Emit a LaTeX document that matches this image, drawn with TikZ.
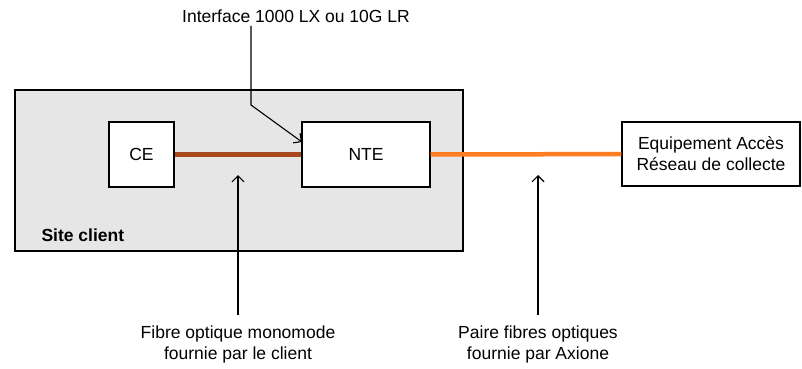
\documentclass[tikz,border=0pt]{standalone}
\usepackage{fontspec}
\setmainfont{Liberation Sans}
\usetikzlibrary{arrows.meta,positioning}
\definecolor{fibrebrown}{RGB}{168,72,28}
\definecolor{fibreorange}{RGB}{255,125,35}
\definecolor{sitegray}{RGB}{230,230,230}

\begin{document}
\begin{tikzpicture}[x=1pt,y=-1pt,font=\fontsize{17.5}{21}\selectfont,
box/.style={draw=black,line width=1.1pt,fill=white,align=center,inner sep=0pt},
client/.style={-,line width=4.5pt,draw=fibrebrown},
axione/.style={-,line width=4.5pt,draw=fibreorange},
arr/.style={-{Straight Barb[length=6pt,width=12pt]},line width=1.1pt,draw=black}]
\useasboundingbox(0,0)rectangle(802,368);

\node[box,fill=sitegray,minimum width=448pt,minimum height=161pt](site)at(239,170.5){};
\node[anchor=west,font=\fontsize{17.5}{21}\selectfont\bfseries](sitelbl)at(38,235){Site client};
\node[box,minimum width=65pt,minimum height=65pt](ce)at(141.5,154.5){CE};
\node[box,minimum width=128pt,minimum height=65pt](nte)at(366,154.5){NTE};
\node[box,minimum width=178pt,minimum height=64pt](equip)at(711,154){Equipement Accès\\Réseau de collecte};
\draw[client](ce)--(nte);
\draw[axione](nte)--(equip);

\node(iface)at(296,16){Interface 1000 LX ou 10G LR};
\coordinate(ifbend)at(251,105);
\coordinate(ifend)at(302,142);
\draw[arr](iface.south-|ifbend)--(ifbend)--(ifend);

\node[align=center,anchor=north](fibre)at(238,322){Fibre optique monomode\\fournie par le client};
\node[align=center,anchor=north](paire)at(538,322){Paire fibres optiques\\fournie par Axione};
\coordinate(fibretip)at(238,175);
\coordinate(pairetip)at(538,175);
\draw[arr,shorten <=7pt](fibre.north)--(fibretip);
\draw[arr,shorten <=7pt](paire.north)--(pairetip);
\end{tikzpicture}
\end{document}
